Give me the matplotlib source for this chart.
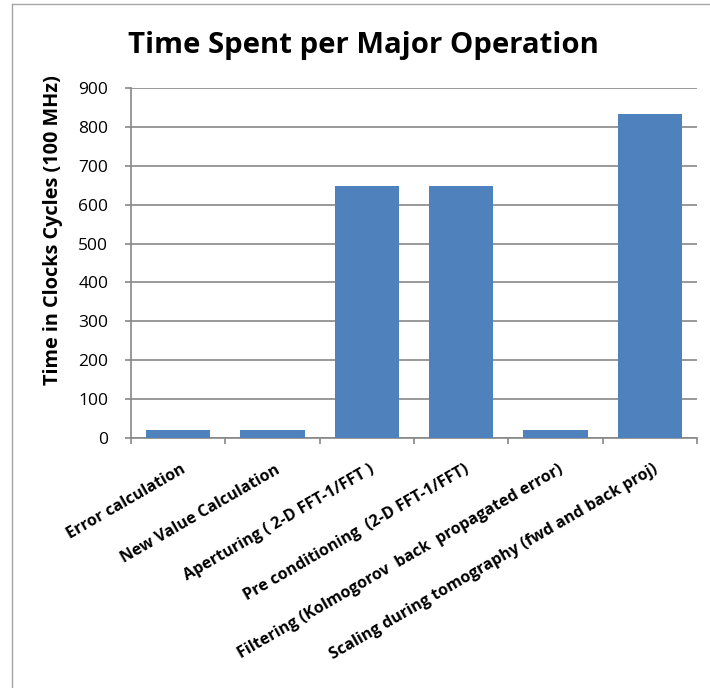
import matplotlib
matplotlib.use("Agg")
import matplotlib.pyplot as plt
from matplotlib.lines import Line2D
from matplotlib.font_manager import FontProperties

categories = ["Error calculation", "New Value Calculation", "Aperturing ( 2-D FFT-1/FFT )",
              "Pre conditioning  (2-D FFT-1/FFT)", "Filtering (Kolmogorov  back  propagated error)",
              "Scaling during tomography (fwd and back proj)"]
values = [20, 20, 648, 648, 20, 833]
yticks = [0, 100, 200, 300, 400, 500, 600, 700, 800, 900]
title = "Time Spent per Major Operation"
ylabel = "Time in Clocks Cycles (100 MHz)"

FAM = ['Open Sans', 'DejaVu Sans']
plt.rcParams['font.family'] = FAM
W, H = 710, 688
fig = plt.figure(figsize=(W/100, H/100), dpi=100)
r = fig.canvas.get_renderer()

def fit_size(s, target_px, weight):
    fp = FontProperties(family=FAM, weight=weight, size=10)
    w, h, d = r.get_text_width_height_descent(s, fp, ismath=False)
    return 10 * target_px / w

# chart-area border (left and top only visible)
fig.add_artist(Line2D([12/W, 12/W], [0, 1-4/H], transform=fig.transFigure, color='#a6a6a6', lw=1))
fig.add_artist(Line2D([12/W, 1], [1-4/H, 1-4/H], transform=fig.transFigure, color='#a6a6a6', lw=1))

L, R, T, B = 131, 697, 88, 438
ax = fig.add_axes([L/W, 1-B/H, (R-L)/W, (B-T)/H])
x = list(range(len(categories)))
ax.bar(x, values, width=0.68, color='#4f81bd', zorder=3)
ax.set_xlim(-0.5, len(categories)-0.5)
ax.set_ylim(0, 900)
ax.set_yticks(yticks)
ax.set_yticklabels([str(v) for v in yticks], fontsize=fit_size("900", 30, 'normal'))
ax.yaxis.grid(True, color='#888888', linewidth=1.2, zorder=0)
ax.set_xticks([i - 0.5 for i in range(len(categories)+1)])
ax.set_xticklabels([])
ax.tick_params(axis='x', length=4, width=1.2, color='#888888')
ax.tick_params(axis='y', length=4.3, width=1.2, color='#888888', pad=12)
for s in ['top', 'right']:
    ax.spines[s].set_visible(False)
for s in ['left', 'bottom']:
    ax.spines[s].set_color('#888888')
    ax.spines[s].set_linewidth(1.2)

xl_size = fit_size(categories[-1], 376, 'bold')
for i, c in enumerate(categories):
    ax.annotate(c, xy=(i, 0), xycoords=('data', 'axes fraction'), xytext=(2, -17),
                textcoords='offset points', rotation=30, rotation_mode='anchor',
                ha='right', va='top', fontsize=xl_size, fontweight='bold')

fig.text(53/W, 1-230/H, ylabel, rotation=90, ha='center', va='center',
         fontsize=fit_size(ylabel, 310, 'bold'), fontweight='bold')
fig.text(363.5/W, 1-53/H, title, ha='center', va='baseline',
         fontsize=fit_size(title, 473, 'bold'), fontweight='bold')
fig.savefig("out.png", dpi=100)
